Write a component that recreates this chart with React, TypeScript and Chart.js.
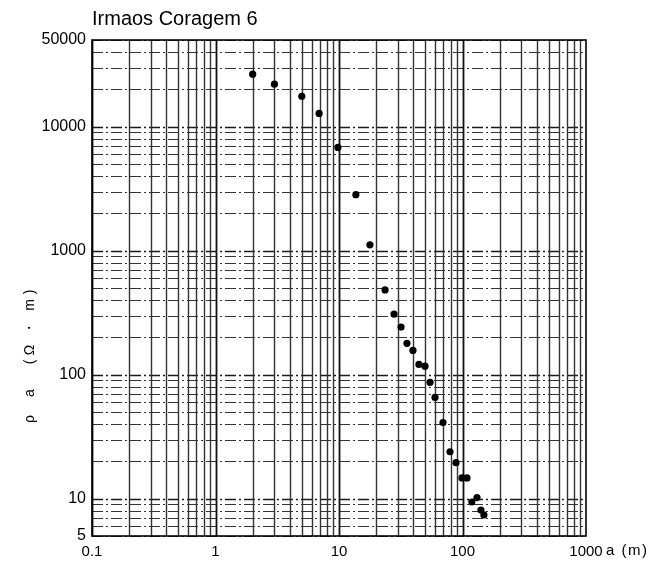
import React, { useEffect, useRef } from 'react';
import { Chart, registerables } from 'chart.js';

Chart.register(...registerables);

const chartTitle = 'Irmaos Coragem 6';
const spacingA = [2, 3, 5, 6.9, 9.8, 13.7, 17.8, 23.6, 27.9, 31.8, 35.5, 39.7, 44.4, 49.7, 54.6, 59.9, 69.5, 79.2, 88.6, 99, 108.7, 119, 131, 141, 149];
const rhoA = [26500, 22000, 17600, 12800, 6800, 2830, 1115, 482, 308, 242, 179, 157, 121, 117, 86.7, 65.5, 41.1, 23.9, 19.5, 14.7, 14.7, 9.4, 10.2, 8.1, 7.4];
const xTickValues = [0.1, 1, 10, 100, 1000];
const xTickLabels = ['0.1', '1', '10', '100', '1000'];
const yTickValues = [5, 10, 100, 1000, 10000, 50000];
const yTickLabels = ['5', '10', '100', '1000', '10000', '50000'];
const xUnitLabel = 'a (m)';
const yLabelParts = ['ρ', 'a', '(', 'Ω', '・', 'm', ')'];

const FONT = '"Liberation Sans", Arial, sans-serif';

const gridPlugin = {
  id: 'logGrid',
  beforeDatasetsDraw(chart: any) {
    const { ctx, chartArea: a, scales } = chart;
    const x = scales.x;
    const y = scales.y;
    ctx.save();
    // horizontal dashed lines
    ctx.setLineDash([11, 3, 2, 3]);
    for (let d = 0; d <= 4; d++) {
      for (let m = 1; m <= 9; m++) {
        const v = m * Math.pow(10, d);
        if (v < 5 || v > 50000) continue;
        const py = Math.round(y.getPixelForValue(v)) + 0.5;
        ctx.strokeStyle = m === 1 ? '#1a1a1a' : '#333';
        ctx.lineWidth = m === 1 ? 1.5 : 1.2;
        ctx.beginPath();
        ctx.moveTo(a.left, py);
        ctx.lineTo(a.right, py);
        ctx.stroke();
      }
    }
    ctx.setLineDash([]);
    // vertical solid lines
    for (let d = -1; d <= 2; d++) {
      for (let m = 1; m <= 9; m++) {
        const v = m * Math.pow(10, d);
        const px = Math.round(x.getPixelForValue(v)) + 0.5;
        ctx.strokeStyle = m === 1 ? '#111' : '#333';
        ctx.lineWidth = m === 1 ? 1.8 : 1.4;
        ctx.beginPath();
        ctx.moveTo(px, a.top);
        ctx.lineTo(px, a.bottom);
        ctx.stroke();
      }
    }
    ctx.strokeStyle = '#000';
    ctx.lineWidth = 1.6;
    ctx.strokeRect(a.left, a.top, a.right - a.left, a.bottom - a.top);
    ctx.restore();
  },
  afterDraw(chart: any) {
    const { ctx, chartArea: a } = chart;
    ctx.save();
    ctx.fillStyle = '#000';
    ctx.font = `20px ${FONT}`;
    ctx.textAlign = 'left';
    ctx.textBaseline = 'middle';
    ctx.fillText(chartTitle, a.left, 19);

    ctx.font = `15px ${FONT}`;
    ctx.textBaseline = 'middle';
    (ctx as any).letterSpacing = '1.5px';
    ctx.fillText(xUnitLabel, a.right + 20, a.bottom + 15);
    (ctx as any).letterSpacing = '0px';

    ctx.font = `14px ${FONT}`;
    const ys = [419, 393, 362, 350, 328, 305, 292];
    ctx.translate(30, 0);
    ctx.rotate(-Math.PI / 2);
    ctx.textAlign = 'center';
    yLabelParts.forEach((ch, i) => {
      ctx.fillText(ch, -ys[i], 0);
    });
    ctx.restore();
  },
};

export default function App() {
  const ref = useRef<HTMLCanvasElement>(null);
  useEffect(() => {
    document.body.style.margin = '0';
    document.body.style.overflow = 'hidden';
    const canvas = ref.current!;
    const chart = new Chart(canvas, {
      type: 'scatter',
      data: {
        datasets: [
          {
            data: spacingA.map((v, i) => ({ x: v, y: rhoA[i] })),
            backgroundColor: '#000',
            borderColor: '#000',
            pointRadius: 3.6,
            pointBorderWidth: 0,
            showLine: false,
          },
        ],
      },
      options: {
        responsive: false,
        animation: false,
        layout: { padding: { top: 40, right: 70, left: 0, bottom: 0 } },
        plugins: { legend: { display: false }, tooltip: { enabled: false }, title: { display: false } },
        scales: {
          x: {
            type: 'logarithmic',
            min: 0.1,
            max: 1000,
            grid: { display: false, drawTicks: false },
            border: { display: false },
            afterBuildTicks: (s: any) => {
              s.ticks = xTickValues.map((v) => ({ value: v }));
            },
            afterFit: (s: any) => {
              s.height = 27;
            },
            ticks: {
              autoSkip: false,
              maxRotation: 0,
              padding: 7,
              color: '#000',
              font: { family: FONT, size: 15 },
              callback: (v: any) => {
                const i = xTickValues.findIndex((t) => Math.abs(t - Number(v)) < 1e-9);
                return i >= 0 ? xTickLabels[i] : '';
              },
            },
          },
          y: {
            type: 'logarithmic',
            min: 5,
            max: 50000,
            grid: { display: false, drawTicks: false },
            border: { display: false },
            afterBuildTicks: (s: any) => {
              s.ticks = yTickValues.map((v) => ({ value: v }));
            },
            afterFit: (s: any) => {
              s.width = 92;
            },
            ticks: {
              autoSkip: false,
              padding: 6,
              color: '#000',
              font: { family: FONT, size: 16 },
              callback: (v: any) => {
                const i = yTickValues.findIndex((t) => Math.abs(t - Number(v)) < 1e-9);
                return i >= 0 ? yTickLabels[i] : '';
              },
            },
          },
        },
      },
      plugins: [gridPlugin],
    });
    return () => chart.destroy();
  }, []);
  return <canvas ref={ref} width={656} height={563} style={{ display: 'block' }} />;
}
